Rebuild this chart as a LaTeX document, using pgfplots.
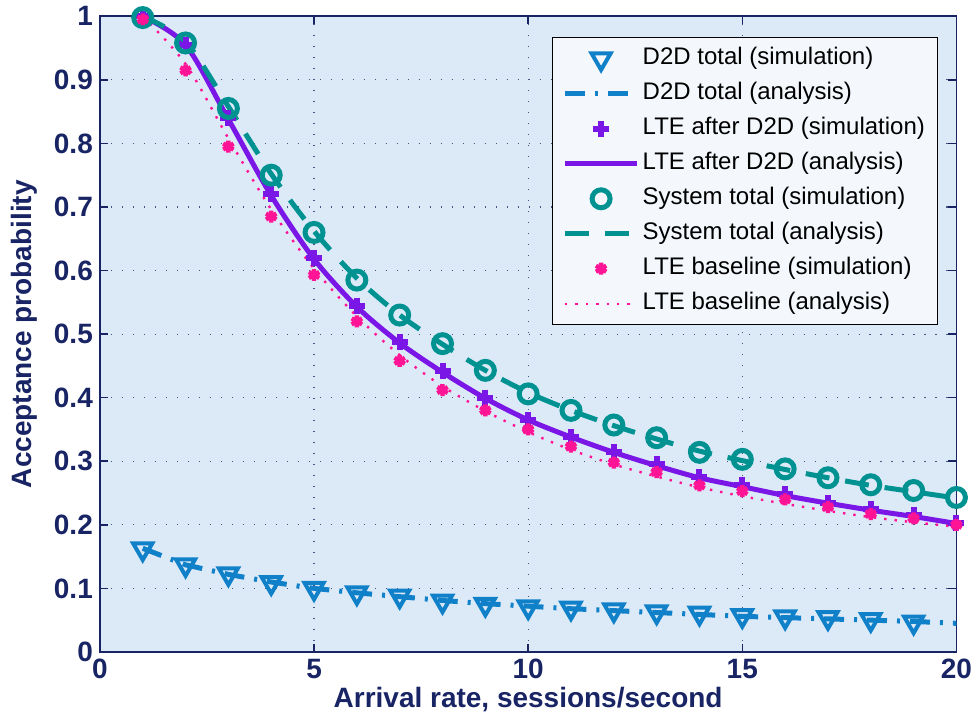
\documentclass[border=0pt]{standalone}
\usepackage{pgfplots}
\pgfplotsset{compat=1.18}
\usepackage{fontspec}
\setmainfont{Liberation Sans}
\definecolor{navy}{RGB}{24,36,100}
\definecolor{griddot}{RGB}{70,85,130}
\definecolor{bgblue}{RGB}{220,234,248}
\definecolor{legbg}{RGB}{244,248,253}
\definecolor{dtd}{RGB}{16,128,200}
\definecolor{lte}{RGB}{122,22,230}
\definecolor{sys}{RGB}{0,145,145}
\definecolor{base}{RGB}{255,20,150}
\begin{document}
\begin{tikzpicture}
\begin{axis}[
  width=428.5pt, height=318pt, scale only axis,
  xmin=0, xmax=20, ymin=0, ymax=1,
  xtick={0,5,10,15,20},
  ytick={0,0.1,...,1},
  /pgf/number format/fixed,
  /pgf/number format/assume math mode=true,
  axis background/.style={fill=bgblue},
  axis line style={navy, line width=0.8pt},
  tick style={navy, line width=0.8pt},
  tick align=inside, major tick length=4pt,
  grid=major,
  major grid style={griddot, line width=0.6pt, dash pattern=on 0.6pt off 4.9pt},
  ticklabel style={font=\bfseries\fontsize{14}{14}\selectfont, text=navy},
  xticklabel style={inner xsep=1pt},
  label style={font=\bfseries\fontsize{14}{14}\selectfont, text=navy},
  xlabel={Arrival rate, sessions/second},
  ylabel={Acceptance probability},
  xlabel style={yshift=2.5pt},
  ylabel style={yshift=-1pt, inner ysep=5.7pt},
  legend style={at={(rel axis cs:0.979,0.967)}, anchor=north east,
    fill=legbg, draw=black, line width=0.6pt,
    font=\fontsize{12}{14}\selectfont, row sep=2.5pt,
    nodes={inner sep=1.5pt, text height=9pt, text depth=3pt},
    inner xsep=5pt, inner ysep=3pt},
  legend cell align=left,
  legend image code/.code={\draw[mark repeat=2,mark phase=2] plot coordinates {(0cm,0cm) (0.635cm,0cm) (1.27cm,0cm)};},
  every axis plot/.append style={line width=2.5pt},
]
% D2D total simulation
\addplot[only marks, dtd, mark=triangle, mark size=5.5pt, mark options={rotate=180, line width=2pt}] coordinates {
(1,0.162) (2,0.137) (3,0.123) (4,0.109) (5,0.100) (6,0.093) (7,0.088) (8,0.080) (9,0.075) (10,0.071)
(11,0.069) (12,0.066) (13,0.063) (14,0.061) (15,0.057) (16,0.055) (17,0.054) (18,0.051) (19,0.047)};
\addlegendentry{D2D total (simulation)}
% D2D total analysis
\addplot[dtd, dash pattern=on 10pt off 5pt on 1.5pt off 5pt] coordinates {
(1,0.163) (2,0.137) (3,0.122) (4,0.110) (5,0.100) (6,0.093) (7,0.087) (8,0.081) (9,0.076) (10,0.072)
(11,0.068) (12,0.065) (13,0.062) (14,0.059) (15,0.056) (16,0.054) (17,0.052) (18,0.050) (19,0.048) (20,0.045)};
\addlegendentry{D2D total (analysis)}
% LTE after D2D simulation
\addplot[only marks, lte, mark=+, mark size=4pt, mark options={line width=3pt}] coordinates {
(1,1.0) (2,0.955) (3,0.84) (4,0.72) (5,0.62) (6,0.545) (7,0.487) (8,0.442) (9,0.400) (10,0.365)
(11,0.338) (12,0.315) (13,0.295) (14,0.275) (15,0.262) (16,0.248) (17,0.235) (18,0.225) (19,0.215) (20,0.203)};
\addlegendentry{LTE after D2D (simulation)}
% LTE after D2D analysis
\addplot[lte, smooth] coordinates {
(1,1.0) (2,0.955) (3,0.838) (4,0.718) (5,0.618) (6,0.543) (7,0.486) (8,0.440) (9,0.399) (10,0.365)
(11,0.338) (12,0.314) (13,0.293) (14,0.274) (15,0.260) (16,0.246) (17,0.234) (18,0.223) (19,0.213) (20,0.202)};
\addlegendentry{LTE after D2D (analysis)}
% System total simulation
\addplot[only marks, sys, mark=o, mark size=4.5pt, mark options={line width=2.5pt}] coordinates {
(1,0.998) (2,0.958) (3,0.855) (4,0.75) (5,0.66) (6,0.585) (7,0.53) (8,0.485) (9,0.443) (10,0.406)
(11,0.380) (12,0.357) (13,0.337) (14,0.314) (15,0.303) (16,0.288) (17,0.274) (18,0.263) (19,0.254) (20,0.243)};
\addlegendentry{System total (simulation)}
% System total analysis
\addplot[sys, dash pattern=on 12pt off 8pt, smooth] coordinates {
(1,1.0) (2,0.960) (3,0.858) (4,0.752) (5,0.662) (6,0.588) (7,0.530) (8,0.484) (9,0.443) (10,0.408)
(11,0.380) (12,0.356) (13,0.335) (14,0.316) (15,0.301) (16,0.287) (17,0.274) (18,0.262) (19,0.252) (20,0.242)};
\addlegendentry{System total (analysis)}
% LTE baseline simulation
\addplot[only marks, base, mark=asterisk, mark size=3pt, mark options={line width=2.2pt}] coordinates {
(1,0.995) (2,0.915) (3,0.795) (4,0.685) (5,0.593) (6,0.520) (7,0.458) (8,0.412) (9,0.380) (10,0.350)
(11,0.323) (12,0.298) (13,0.283) (14,0.262) (15,0.253) (16,0.240) (17,0.228) (18,0.217) (19,0.210) (20,0.200)};
\addlegendentry{LTE baseline (simulation)}
% LTE baseline analysis
\addplot[base, line width=1.2pt, dash pattern=on 1.2pt off 4pt, smooth] coordinates {
(1,1.0) (2,0.925) (3,0.808) (4,0.696) (5,0.603) (6,0.528) (7,0.467) (8,0.418) (9,0.379) (10,0.346)
(11,0.318) (12,0.295) (13,0.276) (14,0.259) (15,0.245) (16,0.233) (17,0.222) (18,0.212) (19,0.204) (20,0.197)};
\addlegendentry{LTE baseline (analysis)}
\end{axis}
\end{tikzpicture}
\end{document}
